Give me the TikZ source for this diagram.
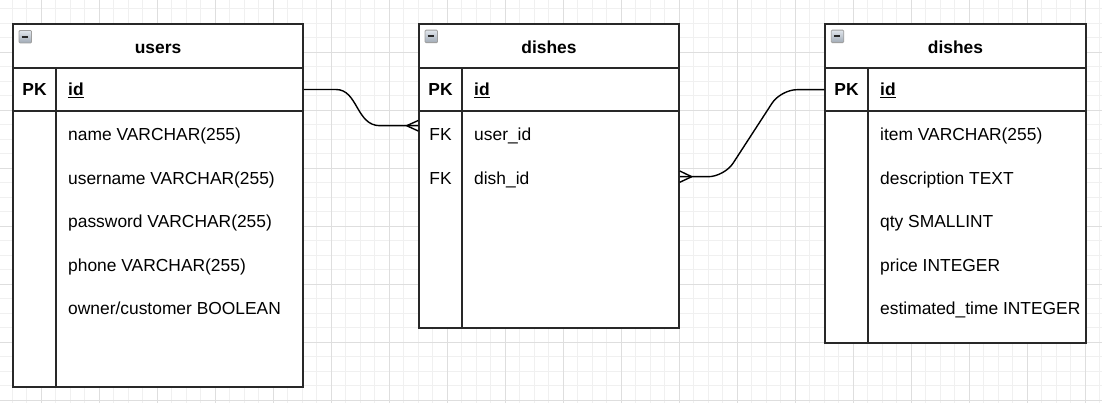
\documentclass[tikz,border=0pt]{standalone}
\usepackage{fontspec}
\setmainfont{Liberation Sans}
\definecolor{minorgrid}{RGB}{240,240,240}
\definecolor{majorgrid}{RGB}{222,222,222}
\definecolor{border}{RGB}{40,40,40}
\definecolor{icontop}{RGB}{225,230,236}
\definecolor{iconbot}{RGB}{160,170,182}
\begin{document}
\begin{tikzpicture}[x=1pt,y=-1pt,
  tbl/.style={draw=border, line width=1.5pt, fill=white, inner sep=0pt},
  sep/.style={draw=border, line width=1.5pt},
  conn/.style={draw=black, line width=1.4pt},
  txt/.style={anchor=base west, inner sep=0pt, font=\fontsize{17.4pt}{20pt}\selectfont},
  idtxt/.style={anchor=base west, inner sep=0pt, font=\fontsize{17.4pt}{20pt}\selectfont\bfseries},
  ttl/.style={anchor=base, inner sep=0pt, font=\fontsize{17.4pt}{20pt}\selectfont\bfseries},
  pk/.style={anchor=base, inner sep=0pt, font=\fontsize{17.4pt}{20pt}\selectfont\bfseries},
  fk/.style={anchor=base, inner sep=0pt, font=\fontsize{17.4pt}{20pt}\selectfont},
  icon/.style={draw=gray!75, line width=0.8pt, top color=icontop, bottom color=iconbot, minimum size=12.5pt, inner sep=0pt, rounded corners=1pt}
]
\useasboundingbox (0,0) rectangle (1102,403);
\fill[white] (0,0) rectangle (1102,403);
% grid
\foreach \i in {0,...,75} \draw[minorgrid, line width=1pt] ({12.3+14.5*\i},0) -- ++(0,403);
\foreach \i in {0,...,27} \draw[minorgrid, line width=1pt] (0,{8.8+14.5*\i}) -- ++(1102,0);
\foreach \i in {0,...,18} \draw[majorgrid, line width=1pt] ({41.3+58*\i},0) -- ++(0,403);
\foreach \i in {1,...,7} \draw[majorgrid, line width=1pt] (0,{-5.7+58*\i}) -- ++(1102,0);

% ---------- users table ----------
\node[tbl, minimum width=290pt, minimum height=363pt] (users) at (158,205.5) {};
\draw[sep] (users.west |- 0,68) -- (users.east |- 0,68);
\draw[sep] (users.west |- 0,111) -- (users.east |- 0,111);
\draw[sep] (56,68) -- (users.south -| 56,0);
\node[icon] (uicon) at (25.3,36.7) {};
\draw[line width=2.2pt, black!85] (uicon.west) ++(3,0) -- ++(6.5,0);
\node[ttl] (utitle) at (158,53.3) {users};
\node[pk] (upk) at (34.5,96) {PK};
\node[idtxt] (uid) at (68,96) {\underline{id}};
\node[txt] (u1) at (68,140.7) {name VARCHAR(255)};
\node[txt] (u2) at (68,184.2) {username VARCHAR(255)};
\node[txt] (u3) at (68,227.7) {password VARCHAR(255)};
\node[txt] (u4) at (68,271.2) {phone VARCHAR(255)};
\node[txt] (u5) at (68,314.7) {owner/customer BOOLEAN};

% ---------- middle dishes table ----------
\node[tbl, minimum width=260pt, minimum height=304pt] (mid) at (549,176) {};
\draw[sep] (mid.west |- 0,68) -- (mid.east |- 0,68);
\draw[sep] (mid.west |- 0,111) -- (mid.east |- 0,111);
\draw[sep] (462,68) -- (mid.south -| 462,0);
\node[icon] (micon) at (431.3,36.4) {};
\draw[line width=2.2pt, black!85] (micon.west) ++(3,0) -- ++(6.5,0);
\node[ttl] (mtitle) at (549,53.3) {dishes};
\node[pk] (mpk) at (440.5,96) {PK};
\node[idtxt] (mid-id) at (474,96) {\underline{id}};
\node[fk] (mfk1) at (440.5,140.7) {FK};
\node[txt] (m1) at (474,140.7) {user\_id};
\node[fk] (mfk2) at (440.5,184.2) {FK};
\node[txt] (m2) at (474,184.2) {dish\_id};

% ---------- right dishes table ----------
\node[tbl, minimum width=261pt, minimum height=319pt] (right) at (955.5,183.5) {};
\draw[sep] (right.west |- 0,68) -- (right.east |- 0,68);
\draw[sep] (right.west |- 0,111) -- (right.east |- 0,111);
\draw[sep] (868,68) -- (right.south -| 868,0);
\node[icon] (ricon) at (837.5,36.4) {};
\draw[line width=2.2pt, black!85] (ricon.west) ++(3,0) -- ++(6.5,0);
\node[ttl] (rtitle) at (955.5,53.3) {dishes};
\node[pk] (rpk) at (846.5,96) {PK};
\node[idtxt] (rid) at (880,96) {\underline{id}};
\node[txt] (r1) at (880,140.7) {item VARCHAR(255)};
\node[txt] (r2) at (880,184.2) {description TEXT};
\node[txt] (r3) at (880,227.7) {qty SMALLINT};
\node[txt] (r4) at (880,271.2) {price INTEGER};
\node[txt] (r5) at (880,314.7) {estimated\_time INTEGER};

% ---------- connectors ----------
\coordinate (c1s) at (users.east |- 0,89.5);
\coordinate (c1e) at (mid.west |- 0,125.7);
\draw[conn] (c1s) -- (336,89.5) .. controls (358,89.5) and (356,125.7) .. (380,125.7) -- (c1e);
\draw[conn] (406.7,125.7) -- (mid.west |- 0,120.5);
\draw[conn] (406.7,125.7) -- (mid.west |- 0,131);

\coordinate (c2s) at (mid.east |- 0,176.7);
\coordinate (c2e) at (right.west |- 0,89.7);
\draw[conn, rounded corners=16pt] (c2s) -- (724.3,176.7) -- (780.8,89.7) -- (c2e);
\draw[conn] (691.7,176.7) -- (mid.east |- 0,171);
\draw[conn] (691.7,176.7) -- (mid.east |- 0,182.3);
\end{tikzpicture}
\end{document}
